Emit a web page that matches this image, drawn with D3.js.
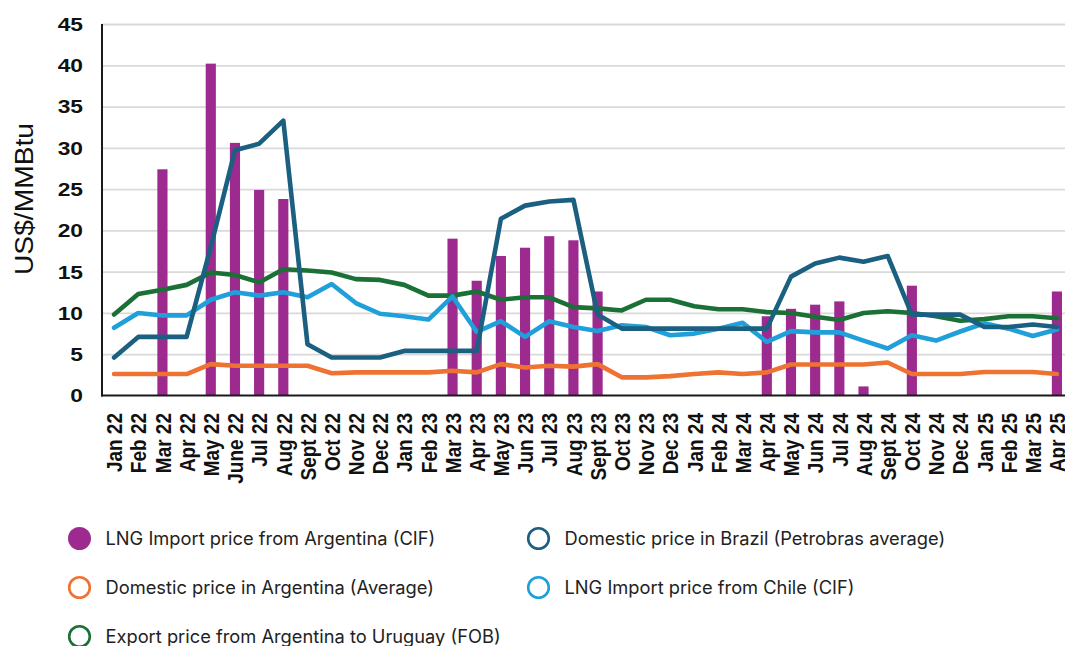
<!DOCTYPE html>
<html>
<head>
<meta charset="utf-8">
<script src="https://cdn.jsdelivr.net/npm/d3@7"></script>
<style>
    body { margin: 0; background: #fff; }
    svg { display: block; }
</style>
</head>
<body>
<svg id="chart" width="1065" height="646"></svg>
<script>
// Months on the x axis
const months = [
    "Jan 22", "Feb 22", "Mar 22", "Apr 22", "May 22", "June 22", "Jul 22", "Aug 22", "Sept 22", "Oct 22", "Nov 22", "Dec 22",
    "Jan 23", "Feb 23", "Mar 23", "Apr 23", "May 23", "Jun 23", "Jul 23", "Aug 23", "Sept 23", "Oct 23", "Nov 23", "Dec 23",
    "Jan 24", "Feb 24", "Mar 24", "Apr 24", "May 24", "Jun 24", "Jul 24", "Aug 24", "Sept 24", "Oct 24", "Nov 24", "Dec 24",
    "Jan 25", "Feb 25", "Mar 25", "Apr 25"
];

// LNG import price from Argentina (CIF) - bars, null where there were no imports
const lngArgentina = [
    null, null, 27.4, null, 40.2, 30.6, 24.9, 23.8, null, null, null, null,
    null, null, 19.0, 13.9, 16.9, 17.9, 19.3, 18.8, 12.6, null, null, null,
    null, null, null, 9.6, 10.5, 11.0, 11.4, 1.1, null, 13.3, null, null,
    null, null, null, 12.6
];

// Domestic price in Brazil (Petrobras average)
const brazil = [
    4.6, 7.1, 7.1, 7.1, 18.0, 29.7, 30.5, 33.3, 6.2, 4.6, 4.6, 4.6,
    5.4, 5.4, 5.4, 5.4, 21.4, 23.0, 23.5, 23.7, 9.8, 8.1, 8.1, 8.1,
    8.1, 8.1, 8.1, 8.1, 14.4, 16.0, 16.7, 16.2, 16.9, 9.8, 9.8, 9.8,
    8.3, 8.3, 8.6, 8.3
];

// Domestic price in Argentina (Average)
const argentinaDomestic = [
    2.6, 2.6, 2.6, 2.6, 3.8, 3.6, 3.6, 3.6, 3.6, 2.7, 2.8, 2.8,
    2.8, 2.8, 3.0, 2.8, 3.8, 3.4, 3.6, 3.5, 3.8, 2.2, 2.2, 2.35,
    2.6, 2.8, 2.6, 2.8, 3.75, 3.75, 3.75, 3.75, 4.0, 2.6, 2.6, 2.6,
    2.85, 2.85, 2.85, 2.6
];

// LNG import price from Chile (CIF)
const chile = [
    8.2, 10.0, 9.7, 9.7, 11.6, 12.5, 12.1, 12.5, 11.9, 13.5, 11.2, 9.9,
    9.6, 9.2, 12.0, 7.7, 9.0, 7.1, 9.0, 8.3, 7.8, 8.5, 8.3, 7.3,
    7.5, 8.1, 8.8, 6.5, 7.8, 7.65, 7.65, 6.65, 5.7, 7.3, 6.65, 7.75,
    8.75, 8.1, 7.2, 8.0
];

// Export price from Argentina to Uruguay (FOB)
const uruguayExport = [
    9.8, 12.3, 12.8, 13.4, 14.9, 14.6, 13.7, 15.3, 15.15, 14.9, 14.1, 14.0,
    13.4, 12.1, 12.1, 12.6, 11.6, 11.9, 11.9, 10.7, 10.55, 10.3, 11.6, 11.6,
    10.8, 10.45, 10.45, 10.1, 10.0, 9.55, 9.15, 10.0, 10.2, 10.0, 9.6, 9.05,
    9.25, 9.6, 9.6, 9.35
];

const yTicks = [0, 5, 10, 15, 20, 25, 30, 35, 40, 45];

const COLORS = {
    PURPLE: "#9c2a8f",
    DARK_BLUE: "#1b5f81",
    ORANGE: "#ee7332",
    LIGHT_BLUE: "#1fa0da",
    GREEN: "#1b7036",
    GRID: "#d9d9d9",
    AXIS: "#1a1a1a",
};

const svg = d3.select("#chart");

// Plot area
const plotLeft = 102;
const plotRight = 1069;

const x = d3.scaleBand()
    .domain(months)
    .range([plotLeft, plotRight])
    .paddingInner(0.58)
    .paddingOuter(0.29);
const xc = (m) => x(m) + x.bandwidth() / 2;

const y = d3.scaleLinear()
    .domain([0, 45])
    .range([395.5, 24]);

// Gridlines
svg.append("g")
    .attr("transform", `translate(${plotLeft},0)`)
    .call(d3.axisLeft(y).tickValues(yTicks.filter(d => d > 0)).tickSize(-(1065 - plotLeft)).tickFormat(""))
    .call(g => g.select(".domain").remove())
    .selectAll("line")
    .attr("stroke", COLORS.GRID)
    .attr("stroke-width", 1.8);

// Bars
svg.append("g")
    .selectAll("rect")
    .data(months.map((m, i) => ({ m, v: lngArgentina[i] })).filter(d => d.v != null))
    .join("rect")
    .attr("x", d => x(d.m))
    .attr("width", x.bandwidth())
    .attr("y", d => y(d.v))
    .attr("height", d => y(0) - y(d.v))
    .attr("fill", COLORS.PURPLE);

// Lines (drawn bottom to top)
const line = d3.line()
    .x((d, i) => xc(months[i]))
    .y(d => y(d));

const lineSeries = [
    [uruguayExport, COLORS.GREEN],
    [argentinaDomestic, COLORS.ORANGE],
    [chile, COLORS.LIGHT_BLUE],
    [brazil, COLORS.DARK_BLUE],
];
svg.append("g")
    .selectAll("path")
    .data(lineSeries)
    .join("path")
    .attr("d", d => line(d[0]))
    .attr("fill", "none")
    .attr("stroke", d => d[1])
    .attr("stroke-width", 4.6)
    .attr("stroke-linejoin", "round")
    .attr("stroke-linecap", "round");

// Axis lines
svg.append("line")
    .attr("x1", plotLeft).attr("x2", plotLeft)
    .attr("y1", y(45)).attr("y2", y(0) + 1)
    .attr("stroke", COLORS.AXIS).attr("stroke-width", 2);
svg.append("line")
    .attr("x1", plotLeft - 1).attr("x2", 1065)
    .attr("y1", y(0)).attr("y2", y(0))
    .attr("stroke", COLORS.AXIS).attr("stroke-width", 2);

// Y tick labels (the source picture is slightly stretched horizontally)
svg.append("g")
    .selectAll("text")
    .data(yTicks)
    .join("text")
    .attr("transform", d => `translate(83,${y(d)}) scale(1.2,1)`)
    .attr("text-anchor", "end")
    .attr("dy", "0.36em")
    .attr("font-family", "Liberation Sans, Arial, sans-serif")
    .attr("font-weight", "bold")
    .attr("font-size", 19)
    .attr("fill", "#111")
    .text(d => d);

// X tick labels
svg.append("g")
    .selectAll("text")
    .data(months)
    .join("text")
    .attr("transform", d => `translate(${xc(d)},413) rotate(-90) scale(1,1.2)`)
    .attr("text-anchor", "end")
    .attr("dy", "0.36em")
    .attr("font-family", "Liberation Sans, Arial, sans-serif")
    .attr("font-weight", "bold")
    .attr("font-size", 19)
    .attr("fill", "#111")
    .text(d => d);

// Y axis title
svg.append("text")
    .attr("transform", "translate(33,199) rotate(-90)")
    .attr("text-anchor", "middle")
    .attr("font-family", "Liberation Sans, Arial, sans-serif")
    .attr("font-size", 25)
    .attr("textLength", 152)
    .attr("lengthAdjust", "spacingAndGlyphs")
    .attr("fill", "#111")
    .text("US$/MMBtu");

// Legend
const legendItems = [
    { name: "LNG Import price from Argentina (CIF)", color: COLORS.PURPLE, filled: true, col: 0, row: 0 },
    { name: "Domestic price in Brazil (Petrobras average)", color: COLORS.DARK_BLUE, filled: false, col: 1, row: 0 },
    { name: "Domestic price in Argentina (Average)", color: COLORS.ORANGE, filled: false, col: 0, row: 1 },
    { name: "LNG Import price from Chile (CIF)", color: COLORS.LIGHT_BLUE, filled: false, col: 1, row: 1 },
    { name: "Export price from Argentina to Uruguay (FOB)", color: COLORS.GREEN, filled: false, col: 0, row: 2 },
];
const legendColX = [79.5, 538.5];
const legendRowY = [538.5, 587.5, 636.5];

const legend = svg.append("g")
    .selectAll("g")
    .data(legendItems)
    .join("g")
    .attr("transform", d => `translate(${legendColX[d.col]},${legendRowY[d.row]})`);
legend.append("circle")
    .attr("r", d => d.filled ? 11.5 : 10.3)
    .attr("fill", d => d.filled ? d.color : "#fff")
    .attr("stroke", d => d.filled ? "none" : d.color)
    .attr("stroke-width", 2.6);
legend.append("text")
    .attr("x", 26)
    .attr("dy", "0.35em")
    .attr("font-family", "Inter, Noto Sans, sans-serif")
    .attr("font-size", 18.3)
    .attr("fill", "#222")
    .text(d => d.name);
</script>
</body>
</html>
